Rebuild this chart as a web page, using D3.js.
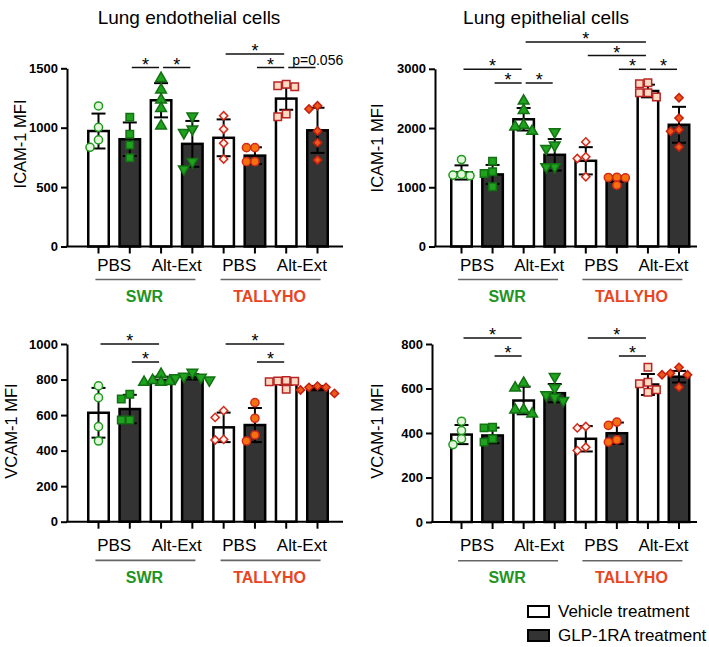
<!DOCTYPE html>
<html><head><meta charset="utf-8">
<script src="https://cdn.jsdelivr.net/npm/d3@7"></script>
<style>body{margin:0;background:#fff} svg{display:block} text{font-family:"Liberation Sans",Arial,sans-serif}</style>
</head><body><svg id="c" width="709" height="647"></svg>
<script>
// ---------- data ----------
const strains = ["SWR", "TALLYHO"];
const stimuli = ["PBS", "Alt-Ext"];
const treatments = ["Vehicle treatment", "GLP-1RA treatment"];
const panelTitles = ["Lung endothelial cells", "Lung epithelial cells"];
const yLabels = ["ICAM-1 MFI", "VCAM-1 MFI"];
// bar order: SWR PBS Veh, SWR PBS GLP, SWR Alt Veh, SWR Alt GLP, TALLYHO PBS Veh, TALLYHO PBS GLP, TALLYHO Alt Veh, TALLYHO Alt GLP

const icamEndoMean = [972, 903, 1231, 864, 915, 765, 1245, 978];
const icamEndoSD = [147, 141, 144, 193, 155, 70, 94, 190];
const icamEndoPoints = [
  [1183, 1003, 897, 835], [1088, 944, 854, 747], [1416, 1318, 1234, 1163, 1015], [1098, 958, 989, 714, 652],
  [1101, 987, 869, 737], [832, 832, 714, 714], [1354, 1365, 1345, 1093, 1115], [1185, 1157, 972, 874, 728]];
const icamEndoTicks = [0, 500, 1000, 1500];
const icamEndoSig = [[1, 2, "*", 0], [2, 3, "*", 0], [4, 6, "*", 1], [5, 6, "*", 0], [6, 7, "p=0.056", 0]];

const icamEpiMean = [1250, 1217, 2148, 1548, 1447, 1140, 2625, 2055];
const icamEpiSD = [120, 160, 190, 266, 230, 50, 107, 303];
const icamEpiPoints = [
  [1469, 1194, 1217, 1206], [1441, 1262, 1234, 1009], [2456, 2299, 1946, 2047, 2019], [1935, 1654, 1710, 1346, 1346],
  [1766, 1514, 1486, 1178], [1170, 1160, 1165, 1035], [2764, 2747, 2522, 2596, 2596], [2512, 2168, 1973, 1944, 1680]];
const icamEpiTicks = [0, 1000, 2000, 3000];
const icamEpiSig = [[1, 2, "*", 0], [2, 3, "*", 0], [0, 2, "*", 1], [5, 6, "*", 1], [6, 7, "*", 1], [4, 6, "*", 2], [2, 6, "*", 3]];

const vcamEndoMean = [613, 634, 798, 815, 531, 544, 788, 752];
const vcamEndoSD = [140, 80, 18, 15, 83, 96, 18, 12];
const vcamEndoPoints = [
  [764, 698, 535, 454], [690, 717, 572, 572], [830, 785, 790, 785, 795], [840, 797, 812, 810, 818],
  [587, 625, 460, 463], [670, 582, 454, 488], [790, 792, 788, 745, 795], [763, 756, 741, 756, 722]];
const vcamEndoTicks = [0, 200, 400, 600, 800, 1000];
const vcamEndoSig = [[1, 2, "*", 0], [0, 2, "*", 1], [5, 6, "*", 0], [4, 6, "*", 1]];

const vcamEpiMean = [393, 389, 546, 579, 374, 399, 618, 653];
const vcamEpiSD = [43, 35, 62, 41, 57, 48, 47, 26];
const vcamEpiPoints = [
  [453, 411, 348, 374], [423, 426, 359, 374], [624, 603, 486, 504, 504], [653, 603, 571, 561, 546],
  [423, 429, 336, 321], [434, 449, 359, 369], [695, 621, 628, 583, 594], [695, 668, 662, 662, 606]];
const vcamEpiTicks = [0, 200, 400, 600, 800];
const vcamEpiSig = [[1, 2, "*", 0], [0, 2, "*", 1], [5, 6, "*", 0], [4, 6, "*", 1]];

// ---------- styles ----------
const strainColor = ["#1f941f", "#e8461e"];
const markerStyles = [
  {type: d3.symbolCircle, size: 52, rot: 0, fill: "#e3f6dc", stroke: "#1f9a1f"},
  {type: d3.symbolSquare, size: 56, rot: 0, fill: "#1fa31f", stroke: "#137013"},
  {type: d3.symbolTriangle, size: 50, rot: 0, fill: "#1fa31f", stroke: "#137013"},
  {type: d3.symbolTriangle, size: 50, rot: 180, fill: "#1fa31f", stroke: "#137013"},
  {type: d3.symbolSquare, size: 34, rot: 45, fill: "#fff3ee", stroke: "#d22a1a"},
  {type: d3.symbolCircle, size: 52, rot: 0, fill: "#f5700f", stroke: "#d42a1a"},
  {type: d3.symbolSquare, size: 56, rot: 0, fill: "#fbd9c2", stroke: "#b82424"},
  {type: d3.symbolSquare, size: 34, rot: 45, fill: "#ea5a1a", stroke: "#c81e10"}
];

const panels = [
  {title: panelTitles[0], yLabel: yLabels[0], mean: icamEndoMean, sd: icamEndoSD, pts: icamEndoPoints, ticks: icamEndoTicks, sig: icamEndoSig,
   L: {axisX: 67, axisEnd: 343, c0: 98.5, c7: 317.5, y0: 246.5, y1: 68.3, labX: 26, labY: 144, xl: 24.5, und: 33, grp: 55.5, s0: 67.5, sStep: 13.5, titleX: 189}},
  {title: panelTitles[1], yLabel: yLabels[0], mean: icamEpiMean, sd: icamEpiSD, pts: icamEpiPoints, ticks: icamEpiTicks, sig: icamEpiSig,
   L: {axisX: 435, axisEnd: 697, c0: 461.5, c7: 679, y0: 246.5, y1: 68.8, labX: 383, labY: 148, xl: 24.5, und: 33, grp: 55.5, s0: 83, sStep: 13.7, titleX: 546}},
  {title: null, yLabel: yLabels[1], mean: vcamEndoMean, sd: vcamEndoSD, pts: vcamEndoPoints, ticks: vcamEndoTicks, sig: vcamEndoSig,
   L: {axisX: 67, axisEnd: 343, c0: 98.5, c7: 317.5, y0: 521.7, y1: 344, labX: 17, labY: 431, xl: 29, und: 38.7, grp: 61.3, s0: 362, sStep: 18}},
  {title: null, yLabel: yLabels[1], mean: vcamEpiMean, sd: vcamEpiSD, pts: vcamEpiPoints, ticks: vcamEpiTicks, sig: vcamEpiSig,
   L: {axisX: 432, axisEnd: 697, c0: 461.5, c7: 679, y0: 522, y1: 344, labX: 383, labY: 431, xl: 29, und: 38.7, grp: 61.3, s0: 356, sStep: 18}}
];

const svg = d3.select("#c");

function swarm(vals, y, s) {
  const order = vals.map((v, i) => i).sort((a, b) => vals[b] - vals[a]);
  const placed = [], out = new Array(vals.length);
  order.forEach(i => {
    const py = y(vals[i]);
    for (const dx of [0, -s, s, -2 * s, 2 * s]) {
      if (placed.every(p => Math.hypot(p.dx - dx, p.y - py) >= s * 0.92)) { out[i] = {dx, y: py}; break; }
    }
    if (!out[i]) out[i] = {dx: 0, y: py};
    placed.push(out[i]);
  });
  return out;
}

panels.forEach(P => {
  const L = P.L;
  const g = svg.append("g");
  const idx = d3.range(8);
  const step = (L.c7 - L.c0) / 7;
  const x = d3.scaleBand().domain(idx).range([L.c0 - step / 2, L.c7 + step / 2]).paddingInner(0.34).paddingOuter(0.17);
  const y = d3.scaleLinear().domain([0, d3.max(P.ticks)]).range([L.y0, L.y1]);
  const cx = i => x(i) + x.bandwidth() / 2;
  const bw = 20.5;

  if (P.title) g.append("text").attr("x", L.titleX).attr("y", 24).attr("text-anchor", "middle").attr("font-size", 19).text(P.title);

  // bars
  g.selectAll("rect.bar").data(P.mean).join("rect")
    .attr("x", (d, i) => cx(i) - bw / 2).attr("width", bw)
    .attr("y", d => y(d)).attr("height", d => L.y0 - y(d))
    .attr("fill", (d, i) => i % 2 ? "#333333" : "#ffffff")
    .attr("stroke", "#000").attr("stroke-width", 2.5);

  // error bars
  P.mean.forEach((m, i) => {
    const lo = y(m - P.sd[i]), hi = y(m + P.sd[i]), c = cx(i);
    g.append("line").attr("x1", c).attr("x2", c).attr("y1", lo).attr("y2", hi).attr("stroke", "#000").attr("stroke-width", 2);
    [lo, hi].forEach(yy => g.append("line").attr("x1", c - 7).attr("x2", c + 7).attr("y1", yy).attr("y2", yy).attr("stroke", "#000").attr("stroke-width", 2));
  });

  // points
  P.pts.forEach((vals, i) => {
    const st = markerStyles[i];
    const sym = d3.symbol().type(st.type).size(st.size);
    const pos = swarm(vals, y, 8.5);
    g.selectAll(null).data(pos).join("path")
      .attr("d", sym)
      .attr("transform", p => `translate(${cx(i) + p.dx},${p.y}) rotate(${st.rot})`)
      .attr("fill", st.fill).attr("stroke", st.stroke).attr("stroke-width", 1.5);
  });

  // y axis
  const ya = g.append("g").attr("transform", `translate(${L.axisX},0)`)
    .call(d3.axisLeft(y).tickValues(P.ticks).tickFormat(d3.format("d")).tickSize(6).tickSizeOuter(0).tickPadding(3));
  ya.select(".domain").attr("stroke-width", 2);
  ya.selectAll(".tick line").attr("stroke-width", 2);
  ya.selectAll(".tick text").attr("font-size", 13).attr("font-weight", "bold").attr("font-family", "Liberation Sans, Arial, sans-serif").attr("fill", "#000");

  // x axis
  const xa = g.append("g").attr("transform", `translate(0,${L.y0})`)
    .call(d3.axisBottom(x).tickSize(7).tickFormat(""));
  xa.select(".domain").remove();
  xa.selectAll(".tick line").attr("stroke-width", 2);
  g.append("line").attr("x1", L.axisX - 1).attr("x2", L.axisEnd).attr("y1", L.y0).attr("y2", L.y0).attr("stroke", "#000").attr("stroke-width", 2);

  // y label
  g.append("text").attr("transform", `translate(${L.labX},${L.labY}) rotate(-90)`).attr("text-anchor", "middle")
    .attr("font-size", 16.5).text(P.yLabel);

  // x labels
  strains.forEach((s, si) => {
    stimuli.forEach((t, ti) => {
      const a = si * 4 + ti * 2;
      g.append("text").attr("x", (cx(a) + cx(a + 1)) / 2).attr("y", L.y0 + L.xl).attr("text-anchor", "middle").attr("font-size", 17).text(t);
    });
    const gc = (cx(si * 4) + cx(si * 4 + 3)) / 2;
    g.append("line").attr("x1", gc - 50).attr("x2", gc + 50).attr("y1", L.y0 + L.und).attr("y2", L.y0 + L.und).attr("stroke", "#666").attr("stroke-width", 1.6);
    g.append("text").attr("x", gc - 1).attr("y", L.y0 + L.grp).attr("text-anchor", "middle").attr("font-size", 16)
      .attr("font-weight", "bold").attr("fill", strainColor[si]).text(s);
  });

  // significance
  P.sig.forEach(([a, b, lab, lev]) => {
    const ly = L.s0 - lev * L.sStep;
    const x1 = cx(a) + 2, x2 = cx(b) - 2;
    g.append("line").attr("x1", x1).attr("x2", x2).attr("y1", ly).attr("y2", ly).attr("stroke", "#111").attr("stroke-width", 1.5);
    if (lab === "*") {
      g.append("text").attr("x", (x1 + x2) / 2).attr("y", ly + 3).attr("text-anchor", "middle").attr("font-size", 18).text(lab);
    } else {
      g.append("text").attr("x", x1 + 4).attr("y", ly - 3).attr("font-size", 14).text(lab);
    }
  });
});

// legend
const leg = svg.append("g");
treatments.forEach((t, i) => {
  leg.append("rect").attr("x", 528).attr("y", 606 + i * 24).attr("width", 21).attr("height", 11)
    .attr("fill", i ? "#333333" : "#fff").attr("stroke", "#000").attr("stroke-width", 2);
  leg.append("text").attr("x", 558).attr("y", 616.5 + i * 24.5).attr("font-size", 17).text(t);
});
</script></body></html>
